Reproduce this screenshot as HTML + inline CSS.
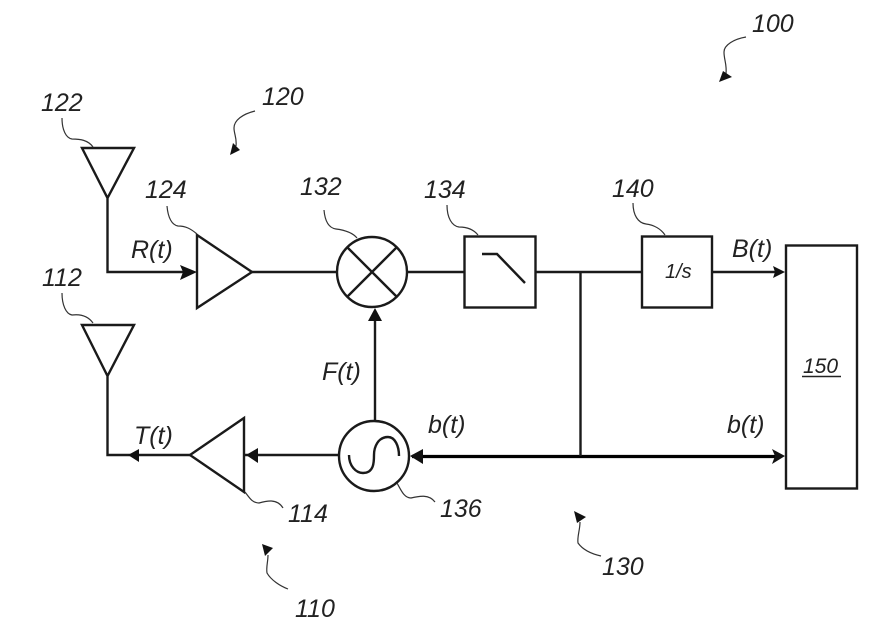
<!DOCTYPE html>
<html>
<head>
<meta charset="utf-8">
<style>
html,body{margin:0;padding:0;background:#fff;width:869px;height:636px;overflow:hidden}
svg{display:block;filter:blur(0.35px)}
text{font-family:"Liberation Sans",sans-serif;font-style:italic;fill:#222;font-size:25px}
.s{fill:none;stroke:#1a1a1a;stroke-width:2.4;stroke-linejoin:miter}
.t{fill:none;stroke:#000;stroke-width:3.2}
.l{fill:none;stroke:#333;stroke-width:1.2}
.a{fill:#111;stroke:none}
</style>
</head>
<body>
<svg width="869" height="636" viewBox="0 0 869 636" xmlns="http://www.w3.org/2000/svg">
<!-- antennas -->
<path class="s" d="M82 148H134L107.500 198ZM107.500 198V272H190"/>
<path class="s" d="M82 325H134L107.500 376ZM107.500 376V455H190"/>
<!-- amplifiers -->
<path class="s" d="M197 235L252 272L197 308Z"/>
<path class="s" d="M244 418L190 455L244 492Z"/>
<path class="s" d="M252 272H337M407 272H464M535 272H642M712 272H775"/>
<!-- mixer -->
<circle class="s" cx="372" cy="272" r="35"/>
<path class="s" d="M347 247L397 297M397 247L347 297"/>
<!-- oscillator -->
<circle class="s" cx="374" cy="456" r="35"/>
<path class="s" d="M349 455C349 466 356 473 363 473C374 473 374 462 374 455C374 447 378 437 388 437C395 437 399 446 399 456" stroke-width="2"/>
<path class="s" d="M375 420V318M244 455H339"/>
<!-- feedback -->
<path class="t" d="M412 456.500H775"/>
<path class="s" d="M580.500 272V456"/>
<!-- boxes -->
<rect class="s" x="464.500" y="236.500" width="71" height="71"/>
<rect class="s" x="642" y="236.500" width="70" height="71"/>
<rect class="s" x="786" y="245.500" width="71" height="243"/>
<path class="s" d="M482 254H497L525 283"/>
<!-- arrowheads -->
<path class="a" d="M197 272L180 265L183 272L180 280Z"/>
<path class="a" d="M128 455L139 449V462Z"/>
<path class="a" d="M246 455L258 448V463Z"/>
<path class="a" d="M375 308L368 321H382Z"/>
<path class="a" d="M410 456L423 449V464Z"/>
<path class="a" d="M785 456L772 449L775 456L772 464Z"/>
<path class="a" d="M785 272L773 266L775 272L773 278Z"/>
<!-- leaders -->
<path class="l" d="M62 118C62 130 66 138 72 139C80 139 88 140 93 147"/>
<path class="l" d="M62 293C62 305 66 314 72 315C80 314 88 316 93 323"/>
<path class="l" d="M167 206C168 218 172 225 178 226C186 226 191 229 197 234"/>
<path class="l" d="M324 210C325 222 329 228 336 229C344 230 352 232 357 238"/>
<path class="l" d="M447 205C447 218 452 226 459 227C468 227 474 230 478 235"/>
<path class="l" d="M633 203C633 215 638 223 646 224C654 225 661 229 665 235"/>
<path class="l" d="M245 492C249 497 252 503 259 503C266 501 277 498 283 508"/>
<path class="l" d="M397 483C401 490 404 498 411 498C419 496 429 494 435 502"/>
<path class="l" d="M255 111C243 114 234 120 234 128C234 134 237 138 236 146"/>
<path class="a" d="M230 155L233 143L240 150Z"/>
<path class="l" d="M746 37C734 39 724 45 724 52C724 60 727 64 726 74"/>
<path class="a" d="M719 82L723 71L732 77Z"/>
<path class="l" d="M268 555C268 562 266 567 267 573C271 580 280 586 288 589"/>
<path class="a" d="M262 544L273 548L265 556Z"/>
<path class="l" d="M580 522C580 530 577 537 578 543C583 550 592 554 601 556"/>
<path class="a" d="M574 511L586 517L577 523Z"/>
<!-- labels -->
<text x="41" y="111">122</text>
<text x="262" y="105">120</text>
<text x="145" y="198">124</text>
<text x="300" y="195">132</text>
<text x="424" y="198">134</text>
<text x="612" y="197">140</text>
<text x="752" y="32">100</text>
<text x="42" y="286">112</text>
<text x="288" y="522">114</text>
<text x="440" y="517">136</text>
<text x="295" y="617">110</text>
<text x="602" y="575">130</text>
<text x="131" y="258">R(t)</text>
<text x="134" y="444">T(t)</text>
<text x="322" y="380">F(t)</text>
<text x="428" y="433">b(t)</text>
<text x="727" y="433">b(t)</text>
<text x="732" y="257">B(t)</text>
<text x="665" y="278" style="font-size:20px">1/s</text>
<text x="803" y="373" style="font-size:21px">150</text>
<path d="M802 376.500H841" stroke="#222" stroke-width="1.600" fill="none"/>
</svg>
</body>
</html>
